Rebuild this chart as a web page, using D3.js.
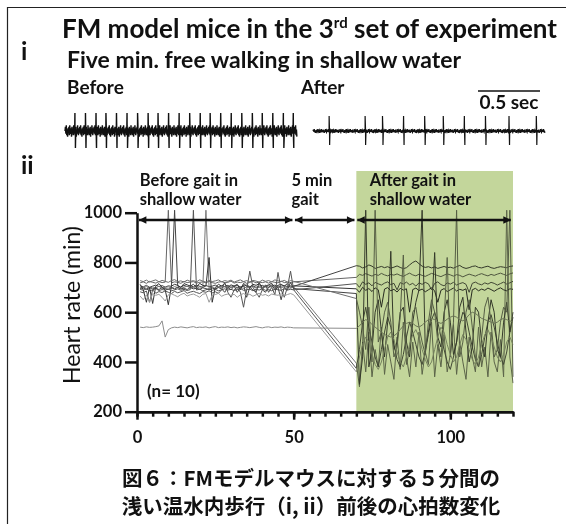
<!DOCTYPE html>
<html>
<head>
<meta charset="utf-8">
<script src="https://cdn.jsdelivr.net/npm/d3@7"></script>
<style>
  body { margin: 0; background: #fff; }
  svg { display: block; }
  text { font-family: Lato, "Open Sans", sans-serif; fill: #111; }
  .cjk { font-family: "Noto Sans CJK JP", sans-serif; }
  .axis path, .axis line { stroke: #111; stroke-width: 2.5; }
  .axis text { font-family: Lato, sans-serif; font-weight: 700; font-size: 16.5px; fill: #111; }
</style>
</head>
<body>
<div id="chart"></div>
<script>
// ---- Data ----
// minutes on the x axis (before: 1..50, after gait: 70..120)
const minutesBefore = d3.range(1, 51);
const minutesAfter = d3.range(70, 121);

// heart rate per mouse, before gait (x 1..50)
const hrBeforeA = [718,722,716,724,720,717,723,719,721,1010,718,722,720,716,724,719,721,723,717,720,722,718,724,719,716,721,723,718,720,725,717,721,719,723,716,720,724,718,721,719,722,717,723,720,718,725,719,721,717,722];
const hrBeforeB = [706,702,708,700,705,709,703,707,701,706,704,1010,705,700,708,703,706,702,709,704,700,707,703,705,709,701,706,703,708,700,705,707,702,704,709,703,706,700,705,708,702,706,704,709,701,705,707,703,706,704];
const hrBeforeC = [692,688,694,686,690,695,687,691,689,693,686,690,694,688,692,687,691,1010,689,693,686,690,695,688,692,686,690,694,689,692,687,691,695,688,690,693,686,692,689,694,688,691,686,693,690,688,694,689,692,690];
const hrBeforeD = [700,697,703,695,701,698,704,696,700,702,697,703,699,695,701,704,698,700,696,702,699,1010,697,701,695,703,699,702,696,700,704,698,701,695,702,699,703,697,700,696,702,699,704,697,701,698,703,700,696,702];
const hrBeforeE = [712,690,640,700,635,705,715,700,690,630,705,712,708,700,715,710,705,712,700,716,708,705,820,640,700,712,705,715,700,710,705,712,690,716,705,700,712,708,715,700,705,710,716,700,708,712,705,715,700,706];
const hrBeforeF = [682,678,685,640,690,676,683,679,686,680,675,684,678,682,687,676,681,684,679,675,683,680,686,678,682,676,690,720,680,660,690,700,680,620,690,765,700,680,660,690,710,680,700,670,760,690,660,700,765,690];
const hrBeforeG = [695,698,692,700,694,697,691,699,695,692,698,694,700,693,697,691,699,694,696,692,698,695,690,697,693,699,694,680,700,690,705,680,700,710,660,700,690,680,720,690,680,700,710,690,700,650,700,690,720,695];
const hrBeforeH = [727,723,729,721,726,730,722,728,724,720,727,731,723,726,721,729,724,727,722,730,725,721,728,723,726,730,722,727,724,729,721,726,730,723,727,722,728,725,721,729,724,727,722,730,726,723,728,721,727,724];
const hrBeforeI = [665,650,670,640,675,668,672,660,645,670,674,668,662,671,676,665,670,673,667,660,672,675,640,668,671,676,664,670,673,667,672,660,670,675,668,672,664,670,676,668,671,665,673,670,668,674,666,671,675,670];
const hrBeforeJ = [540,538,541,539,540,542,545,565,500,530,537,540,538,541,539,537,540,542,538,540,539,541,537,540,542,538,540,539,541,538,540,537,539,541,540,538,540,542,539,537,540,541,538,540,539,541,538,540,539,537];

// heart rate per mouse, after gait in shallow water (x 70..120)
const hrAfterA = [740,752,748,755,750,745,752,748,756,750,746,752,749,754,748,744,751,757,750,746,753,748,744,750,756,752,747,743,749,754,750,745,751,748,742,748,753,749,745,751,755,750,746,752,748,753,757,752,748,754,758];
const hrAfterB = [787,785,778,782,790,785,776,780,784,779,783,777,781,786,780,775,779,790,800,806,795,785,780,783,778,782,776,780,784,779,781,777,783,788,780,776,779,784,786,780,778,782,785,779,776,780,783,781,779,784,786];
const hrAfterC = [715,700,722,712,718,706,720,714,709,717,722,711,716,690,719,713,721,710,716,705,718,712,720,714,690,716,722,711,706,718,713,720,709,715,719,712,680,716,721,714,710,718,713,720,716,709,715,721,713,718,724];
const hrAfterD = [395,300,480,360,520,340,450,380,540,350,470,400,330,500,370,560,420,340,480,380,520,350,440,390,560,340,470,380,510,360,430,550,350,480,400,330,500,420,360,540,380,460,340,520,400,360,490,340,1010,420,315];
const hrAfterE = [694,680,700,688,695,683,698,690,620,693,699,686,692,681,696,689,694,600,691,697,687,693,682,690,698,686,640,688,695,683,690,697,685,692,688,694,610,690,696,686,693,688,697,691,684,692,698,690,686,694,692];
const hrAfterF = [374,450,560,620,540,480,420,380,450,520,580,540,470,410,380,430,500,560,520,470,420,390,440,510,570,600,560,500,450,400,370,420,480,550,600,580,520,460,410,380,430,500,560,590,540,480,420,390,440,520,580];
const hrAfterG = [675,310,420,1010,380,450,600,650,520,420,560,845,450,480,600,620,480,420,560,640,690,1010,450,520,600,840,500,460,600,650,560,430,480,620,660,520,400,460,620,600,480,420,560,650,600,450,420,560,640,520,600];
const hrAfterH = [655,600,540,450,620,400,1010,480,520,600,640,560,420,460,580,830,390,450,600,620,540,480,430,560,650,600,480,420,560,820,420,560,1010,420,480,600,650,540,420,380,500,620,660,560,420,450,560,620,600,1010,340];
const hrAfterI = [360,420,470,500,480,430,390,370,400,450,500,520,490,440,400,380,420,470,510,530,500,450,410,380,400,450,500,540,520,470,430,400,420,470,510,490,450,410,390,420,470,510,530,500,460,420,400,430,480,500,470];
const hrAfterJ = [535,545,560,570,565,550,540,530,520,510,505,500,505,515,530,545,555,560,555,545,540,548,560,570,575,570,560,555,562,572,580,585,580,570,565,575,590,600,595,585,575,570,565,560,555,560,570,575,570,565,560];

const hrBefore = [hrBeforeA, hrBeforeB, hrBeforeC, hrBeforeD, hrBeforeE, hrBeforeF, hrBeforeG, hrBeforeH, hrBeforeI, hrBeforeJ];
const hrAfter = [hrAfterA, hrAfterB, hrAfterC, hrAfterD, hrAfterE, hrAfterF, hrAfterG, hrAfterH, hrAfterI, hrAfterJ];

// phases (minutes)
const phaseLabels = [["Before gait in", "shallow water"], ["5 min", "gait"], ["After gait in", "shallow water"]];
const phaseStarts = [0.6, 50.4, 70.3];
const phaseEnds = [49.6, 69.4, 119.3];
const afterPhase = [70, 120];

// axis ticks
const yTicks = [200, 400, 600, 800, 1000];
const xMajorTicks = [0, 50, 100];
const xMinorTicks = d3.range(0, 121, 5);

// ECG examples: beat times in seconds
const beatsBefore = [0.08,0.165,0.25,0.33,0.415,0.50,0.585,0.67,0.75,0.835,0.92,1.005,1.09,1.17,1.255,1.34,1.425,1.51,1.59,1.675,1.76,1.84];
const beatsAfter = [0.13,0.42,0.56,0.73,0.90,1.05,1.22,1.39,1.58,1.80];
const ecgNoise = [0,3,-2,4,-3,1,-4,2,-1,3,-3,4,-2,0,2,-4,3,-1,1,-3,4,-2,2,-3,0,3,-4,1,-2,4,-1,-3,2];

const lineColors = ["#666", "#444", "#555", "#777", "#333", "#555", "#444", "#707070", "#9a9a9a", "#8c8c8c"];

// ---- Drawing ----
const W = 566, H = 524;
const svg = d3.select("#chart").append("svg").attr("width", W).attr("height", H);

// frame (left and top edges)
svg.append("path")
  .attr("d", `M7.5,${H} V7.5 H${W}`)
  .attr("fill", "none")
  .attr("stroke", "#222")
  .attr("stroke-width", 1.2);

// title
const title = svg.append("text").attr("x", 62).attr("y", 38)
  .attr("font-size", 26).attr("font-weight", 700);
title.append("tspan").text("FM model mice in the 3");
title.append("tspan").text("rd").attr("font-size", 15).attr("dy", -10);
title.append("tspan").text(" set of experiment").attr("dy", 10);

svg.append("text").attr("x", 21).attr("y", 60).attr("font-size", 25).attr("font-weight", 700).text("i");
svg.append("text").attr("x", 67).attr("y", 68).attr("font-size", 23).attr("font-weight", 700)
  .text("Five min. free walking in shallow water");
svg.append("text").attr("x", 67).attr("y", 94).attr("font-size", 19).attr("font-weight", 700).text("Before");
svg.append("text").attr("x", 301).attr("y", 94).attr("font-size", 19).attr("font-weight", 700).text("After");

// ECG traces
function renderTrace({ beats, x0, x1, cy, amp, up, down, width }) {
  const xs = d3.scaleLinear().domain([0, 1.87]).range([x0, x1]);
  const pts = [];
  const n = Math.round(1.87 / 0.0035);
  for (let i = 0; i <= n; i++) pts.push({ t: i * 0.0035, v: ecgNoise[i % ecgNoise.length] * amp });
  beats.forEach((b) => {
    pts.push({ t: b - 0.002, v: 0 }, { t: b, v: up }, { t: b + 0.004, v: -down }, { t: b + 0.008, v: 0 });
  });
  pts.sort((a, b) => a.t - b.t);
  svg.append("path")
    .attr("d", d3.line().x((d) => xs(d.t)).y((d) => cy - d.v)(pts))
    .attr("fill", "none")
    .attr("stroke", "#111")
    .attr("stroke-width", width);
  return xs;
}
renderTrace({ beats: beatsBefore, x0: 65, x1: 297, cy: 131, amp: 1.4, up: 18, down: 17, width: 1.4 });
const xsAfter = renderTrace({ beats: beatsAfter, x0: 313, x1: 545, cy: 131, amp: 0.45, up: 15, down: 14, width: 1.2 });

// 0.5 sec scale bar
svg.append("line")
  .attr("x1", xsAfter(1.33)).attr("x2", xsAfter(1.83))
  .attr("y1", 91).attr("y2", 91)
  .attr("stroke", "#111").attr("stroke-width", 1.5);
svg.append("text").attr("x", xsAfter(1.58)).attr("y", 109).attr("text-anchor", "middle")
  .attr("font-size", 19).attr("font-weight", 700).text("0.5 sec");

svg.append("text").attr("x", 21).attr("y", 174).attr("font-size", 25).attr("font-weight", 700).text("ii");

// ---- Heart rate plot ----
const x = d3.scaleLinear().domain([0, 120]).range([137, 513]);
const y = d3.scaleLinear().domain([200, 1000]).range([411.7, 212.7]);

const series = hrBefore.map((b, i) => ({
  color: lineColors[i],
  values: [
    ...b.map((v, j) => ({ x: minutesBefore[j], y: v })),
    ...hrAfter[i].map((v, j) => ({ x: minutesAfter[j], y: v })),
  ],
}));

const line = d3.line().x((d) => x(d.x)).y((d) => y(d.y));

svg.append("g").attr("class", "lines")
  .selectAll("path")
  .data(series)
  .join("path")
  .attr("d", (d) => line(d.values))
  .attr("fill", "none")
  .attr("stroke", (d) => d.color)
  .attr("stroke-width", 1);

// green band for the after-gait phase (multiplied over the lines)
svg.append("rect")
  .attr("x", x(afterPhase[0]))
  .attr("y", 171)
  .attr("width", x(afterPhase[1]) - x(afterPhase[0]))
  .attr("height", y(200) - 171)
  .attr("fill", "#c3d69b")
  .style("mix-blend-mode", "multiply");

// axes
svg.append("g").attr("class", "axis")
  .attr("transform", `translate(${x(0)},0)`)
  .call(d3.axisLeft(y).tickValues(yTicks).tickFormat(d3.format("d")).tickSize(12).tickPadding(3).tickSizeOuter(0));
svg.append("g").attr("class", "axis")
  .attr("transform", `translate(0,${y(200)})`)
  .call(d3.axisBottom(x).tickValues(xMinorTicks).tickSize(5).tickFormat("").tickSizeOuter(0));
svg.append("g").attr("class", "axis")
  .attr("transform", `translate(0,${y(200)})`)
  .call(d3.axisBottom(x).tickValues(xMajorTicks).tickSize(8).tickPadding(12).tickSizeOuter(0));

svg.append("text")
  .attr("transform", `translate(80,305) rotate(-90)`)
  .attr("text-anchor", "middle")
  .attr("font-size", 23)
  .text("Heart rate (min)");

svg.append("text").attr("x", 147).attr("y", 397).attr("font-size", 17).attr("font-weight", 700).text("(n= 10)");

// phase arrows
const defs = svg.append("defs");
defs.append("marker")
  .attr("id", "arrowhead")
  .attr("viewBox", "0 0 10 10")
  .attr("refX", 10).attr("refY", 5)
  .attr("markerWidth", 3.4).attr("markerHeight", 3)
  .attr("orient", "auto-start-reverse")
  .append("path").attr("d", "M0,0 L10,5 L0,10 Z").attr("fill", "#111");

const arrowY = 220;
svg.append("g").selectAll("line")
  .data(phaseStarts.map((s, i) => [s, phaseEnds[i]]))
  .join("line")
  .attr("x1", (d) => x(d[0])).attr("x2", (d) => x(d[1]))
  .attr("y1", arrowY).attr("y2", arrowY)
  .attr("stroke", "#111").attr("stroke-width", 2.5)
  .attr("marker-start", "url(#arrowhead)")
  .attr("marker-end", "url(#arrowhead)");

// two-line phase labels, one text per line
const labelX = [0.9, 49.3, 74.3];
const labelRows = phaseLabels.flatMap((rows, i) => rows.map((t, r) => ({ t, i, r })));
svg.append("g").selectAll("text")
  .data(labelRows)
  .join("text")
  .attr("x", (d) => x(labelX[d.i]))
  .attr("y", (d) => (d.r === 0 ? 186 : 205))
  .attr("font-size", 16.5)
  .attr("font-weight", 700)
  .text((d) => d.t);

// caption
svg.append("text").attr("class", "cjk").attr("x", 311).attr("y", 486).attr("text-anchor", "middle")
  .attr("font-size", 20.5).attr("font-weight", 700).text("図６：FMモデルマウスに対する５分間の");
svg.append("text").attr("class", "cjk").attr("x", 311).attr("y", 514).attr("text-anchor", "middle")
  .attr("font-size", 20.5).attr("font-weight", 700).text("浅い温水内歩行（i, ii）前後の心拍数変化");
</script>
</body>
</html>
